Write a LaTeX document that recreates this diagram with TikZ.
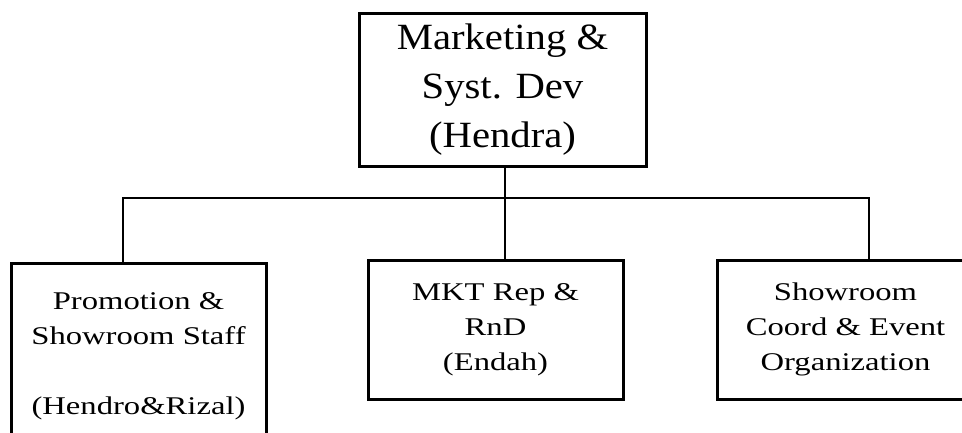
\documentclass[tikz,border=0pt]{standalone}
\usepackage{fontspec}
\setmainfont{Liberation Serif}
\newfontfamily\headfont[FakeStretch=1.1]{Liberation Serif}
\newfontfamily\unitfont[FakeStretch=1.28]{Liberation Serif}
\usetikzlibrary{positioning}
\tikzset{unit/.style={draw, line width=3pt, align=center, inner sep=0pt,
                      minimum width=255pt, font=\unitfont\fontsize{25.5}{35}\selectfont},
         link/.style={line width=1.8pt}}

\begin{document}
\begin{tikzpicture}[x=1pt, y=-1pt]
    \useasboundingbox (0,0) rectangle (962,433);

    \node[unit, minimum width=287pt, minimum height=153pt,
          font=\headfont\fontsize{37}{49}\selectfont] (MKT) at (502.5,90)
          {Marketing \&\\Syst. Dev\\(Hendra)};
    \node[unit, minimum height=187pt] (Promo) at (138.5,356.5)
          {Promotion \&\\Showroom Staff\\~\\(Hendro\&Rizal)};
    \node[unit, minimum height=139pt] (Rep) at (495.5,329.5)
          {MKT Rep \&\\RnD\\(Endah)};
    \node[unit, minimum width=257pt, minimum height=139pt] (Event) at (845.5,329.5)
          {Showroom\\Coord \& Event\\Organization};

    \coordinate (busL) at (123,198);
    \coordinate (busM) at (505,198);
    \coordinate (busR) at (869,198);

    \draw[link] (MKT.south -| busM) -- (busM);
    \draw[link] (busL |- Promo.north) -- (busL) -- (busR) -- (busR |- Event.north);
    \draw[link] (busM) -- (busM |- Rep.north);
\end{tikzpicture}
\end{document}
